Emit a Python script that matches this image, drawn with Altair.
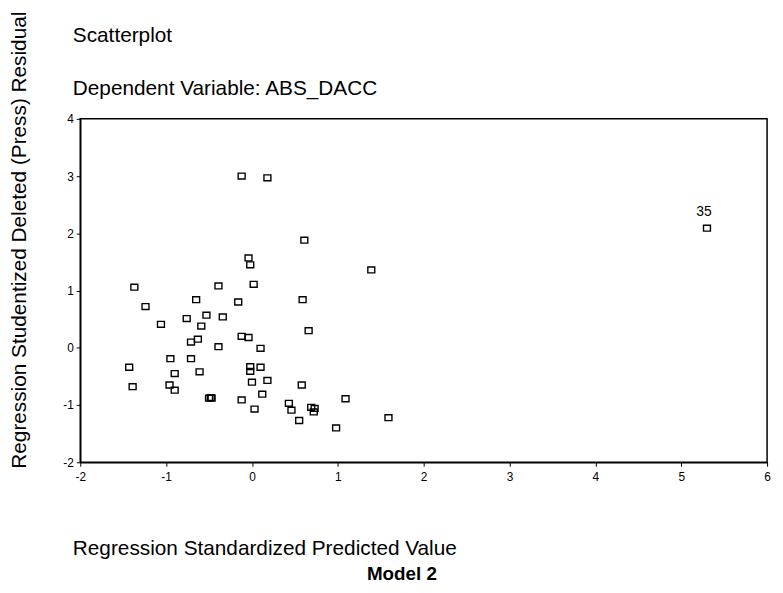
import altair as alt
import pandas as pd

# Regression Standardized Predicted Value (x) and Studentized Deleted Residual (y)
pred = [-0.12, 0.18, 0.61, 5.30, 1.39, -0.04, -0.02, 0.02, -0.39, -1.37,
        -1.24, -1.06, -0.65, -0.16, 0.59, -0.53, -0.34, -0.76, -0.59, 0.66,
        -0.12, -0.04, -0.63, -0.71, -0.39, 0.10, -0.95, -0.71, -1.43, -0.02,
        -0.02, 0.10, -0.90, -0.61, 0.18, 0.00, 0.58, -1.39, -0.96, -0.90,
        0.12, -0.50, -0.48, -0.47, -0.12, 1.09, 0.43, 0.46, 0.69, 0.73,
        0.72, 0.03, 0.55, 0.98, 1.59]
resid = [3.00, 2.97, 1.88, 2.09, 1.36, 1.57, 1.45, 1.11, 1.08, 1.06,
         0.72, 0.41, 0.84, 0.80, 0.84, 0.57, 0.54, 0.51, 0.38, 0.30,
         0.20, 0.18, 0.15, 0.10, 0.02, -0.01, -0.19, -0.19, -0.34, -0.33,
         -0.41, -0.34, -0.45, -0.42, -0.57, -0.60, -0.65, -0.68, -0.65, -0.74,
         -0.81, -0.88, -0.87, -0.88, -0.91, -0.89, -0.97, -1.09, -1.04, -1.06,
         -1.12, -1.07, -1.27, -1.40, -1.22]
case_label = [""] * len(pred)
case_label[3] = "35"

x_ticks = [-2, -1, 0, 1, 2, 3, 4, 5, 6]
y_ticks = [-2, -1, 0, 1, 2, 3, 4]

df = pd.DataFrame({"pred": pred, "resid": resid, "case": case_label})

FONT = "Liberation Sans, Arial"
SQUARE = "M-1,-0.85L1,-0.85L1,0.85L-1,0.85Z"

xscale = alt.Scale(domain=[-2, 6], nice=False, zero=False)
yscale = alt.Scale(domain=[-2, 4], nice=False, zero=False)

y_enc = alt.Y(
    "resid:Q", scale=yscale,
    axis=alt.Axis(
        values=y_ticks, labelExpr="toString(datum.value)", grid=False,
        domainColor="black", domainWidth=1.5, labelFlush=False,
        tickColor="black", tickSize=4, tickWidth=1, labelPadding=3,
        labelFont=FONT, labelFontSize=12, labelColor="black",
        title="Regression Studentized Deleted (Press) Residual",
        titleFont=FONT, titleFontSize=21, titleFontWeight="normal",
        titleColor="black", titleAngle=270, titleAlign="left",
        titleBaseline="alphabetic", titleX=-55, titleY=353,
    ),
)

points = alt.Chart(df).mark_point(
    shape=SQUARE, filled=False, color="black", strokeWidth=1.4, size=49, opacity=1
).encode(
    x=alt.X(
        "pred:Q", scale=xscale,
        axis=alt.Axis(
            orient="bottom", values=x_ticks, labelExpr="toString(datum.value)",
            grid=False, domainColor="black", domainWidth=1.5, labelFlush=False,
            tickColor="black", tickSize=4, tickWidth=1, labelPadding=5,
            labelFont=FONT, labelFontSize=12, labelColor="black",
            title="Regression Standardized Predicted Value",
            titleFont=FONT, titleFontSize=21, titleFontWeight="normal", titleColor="black",
            titleAlign="left", titleBaseline="alphabetic", titleX=-8, titleY=93,
        ),
    ),
    y=y_enc,
)

labels = alt.Chart(df).transform_filter(alt.datum.case != "").mark_text(
    font=FONT, fontSize=14, color="black", dx=-3, dy=-16
).encode(
    x=alt.X(
        "pred:Q", scale=xscale,
        axis=alt.Axis(
            orient="top", domain=False, ticks=False, labels=False, grid=False,
            title=["Scatterplot", "Dependent Variable: ABS_DACC"],
            titleFont=FONT, titleFontSize=21, titleFontWeight="normal", titleColor="black",
            titleAlign="left", titleBaseline="alphabetic", titleLineHeight=53,
            titleX=-8, titleY=-78,
        ),
    ),
    y=alt.Y("resid:Q", scale=yscale),
    text="case:N",
)

chart = alt.layer(points, labels).resolve_axis(x="independent").properties(
    width=694, height=347,
    autosize=alt.AutoSizeParams(type="none"),
    padding={"left": 73, "top": 109, "right": 8, "bottom": 121},
    title=alt.TitleParams(
        "Model 2", orient="bottom", anchor="middle", font=FONT, fontSize=19,
        fontWeight="bold", color="black", dx=-22, offset=7,
    ),
).configure(background="white").configure_view(stroke="black", strokeWidth=1.5)

chart.save("out.html", embed_options={"renderer": "svg", "actions": False})
